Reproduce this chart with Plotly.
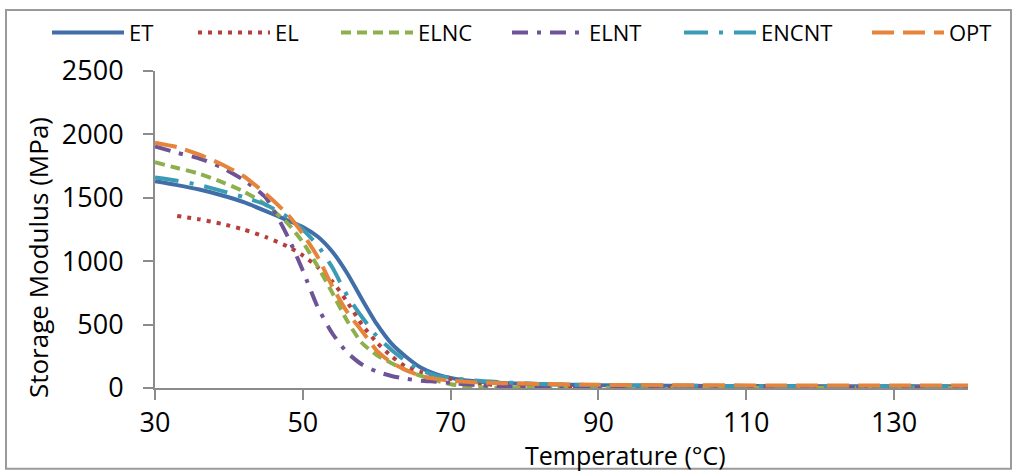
import plotly.graph_objects as go

# temperature grid (deg C) shared by all series
temperature = [30, 33, 36, 39, 42, 45, 48, 50, 52, 54, 56, 58, 60, 62, 64, 66, 68, 70,
               73, 77, 82, 90, 100, 115, 130, 140]

# storage modulus (MPa)
et = [1630, 1600, 1565, 1520, 1465, 1395, 1320, 1270, 1195, 1075, 905, 700, 505, 350,
      245, 160, 110, 80, 55, 40, 30, 22, 18, 15, 14, 14]
el = [None, 1357, 1330, 1295, 1250, 1190, 1115, 1045, 955, 840, 680, 500, 360, 250,
      165, 125, 95, 70, 40, 20, 10, 5, 5, 5, 5, 5]
elnc = [1780, 1735, 1690, 1625, 1550, 1445, 1295, 1150, 960, 750, 530, 355, 260, 195,
        140, 95, 60, 30, 8, 2, 2, 2, 2, 2, 2, 2]
elnt = [1905, 1855, 1810, 1740, 1640, 1500, 1190, 926, 640, 430, 280, 185, 130, 95,
        72, 58, 50, 40, 25, 12, 5, 2, 2, 2, 2, 2]
encnt = [1660, 1635, 1600, 1555, 1505, 1445, 1345, 1250, 1125, 950, 730, 560, 410, 300,
         210, 140, 100, 80, 60, 45, 32, 22, 18, 15, 14, 14]
opt = [1935, 1900, 1840, 1765, 1670, 1530, 1365, 1215, 1035, 800, 600, 450, 295, 200,
       140, 95, 72, 58, 46, 38, 32, 25, 22, 20, 20, 20]

series_names = ["ET", "EL", "ELNC", "ELNT", "ENCNT", "OPT"]
series_values = [et, el, elnc, elnt, encnt, opt]
colors = ["#3F6EA8", "#B5403B", "#8DAF4C", "#6E5497", "#3B9BB5", "#E5843A"]
dashes = ["solid", "4px,6px", "10px,6px", "16px,9px,4px,9px", "24px,11px,4px,11px", "22px,9px"]

FONT = "Open Sans, Lato, DejaVu Sans, sans-serif"

# plot area in pixels
L, R, T, B = 155, 49, 66, 86
W, H = 1017, 474
pw, ph = W - L - R, H - T - B


def px_x(x):
    return (x - L) / pw


def px_y(y):
    return (H - B - y) / ph


fig = go.Figure()

# legend text starts (pixels) as in the reference
legend_text_x = [131, 277, 420, 591, 763, 951]

for i, (name, vals) in enumerate(zip(series_names, series_values)):
    lg = "legend" if i == 0 else f"legend{i + 1}"
    fig.add_trace(
        go.Scatter(
            x=temperature,
            y=vals,
            name=name,
            mode="lines",
            line=dict(color=colors[i], width=4, dash=dashes[i], shape="spline", smoothing=0.6),
            legend=lg,
        )
    )

layout_legends = {}
for i, tx in enumerate(legend_text_x):
    lg = "legend" if i == 0 else f"legend{i + 1}"
    layout_legends[lg] = dict(
        x=px_x(tx - 84),
        xanchor="left",
        y=px_y(27),
        yanchor="middle",
        bgcolor="rgba(0,0,0,0)",
        font=dict(family=FONT, size=22, color="black"),
        itemwidth=72,
    )

axis_style = dict(
    showline=True,
    linecolor="#8c8c8c",
    linewidth=2,
    ticks="outside",
    ticklen=10,
    tickwidth=2,
    tickcolor="#8c8c8c",
    showgrid=False,
    zeroline=False,
    tickfont=dict(family=FONT, size=27, color="black"),
)

fig.update_layout(
    width=W,
    height=H,
    margin=dict(l=L, r=R, t=T, b=B),
    plot_bgcolor="white",
    paper_bgcolor="white",
    showlegend=True,
    xaxis=dict(range=[30, 140], tick0=30, dtick=20, ticklabelstandoff=0, **axis_style),
    yaxis=dict(range=[0, 2500], dtick=500, ticklabelstandoff=14, **axis_style),
    **layout_legends,
    shapes=[
        dict(type="rect", xref="paper", yref="paper",
             x0=px_x(6), x1=px_x(1011), y0=px_y(470), y1=px_y(4),
             line=dict(color="#9a9a9a", width=2), layer="below")
    ],
    annotations=[
        dict(text="Temperature (°C)", xref="paper", yref="paper",
             x=px_x(625), y=px_y(456), xanchor="center", yanchor="middle",
             showarrow=False, font=dict(family=FONT, size=25, color="black")),
        dict(text="Storage Modulus (MPa)", xref="paper", yref="paper",
             x=px_x(38), y=px_y(256), xanchor="center", yanchor="middle",
             textangle=-90, showarrow=False,
             font=dict(family=FONT, size=26, color="black")),
    ],
)

# drop the default page margin so the figure sits at the window's top-left corner
fig.write_html(
    "out.html",
    config={"displayModeBar": False},
    post_script="document.body.style.margin='0';",
)
